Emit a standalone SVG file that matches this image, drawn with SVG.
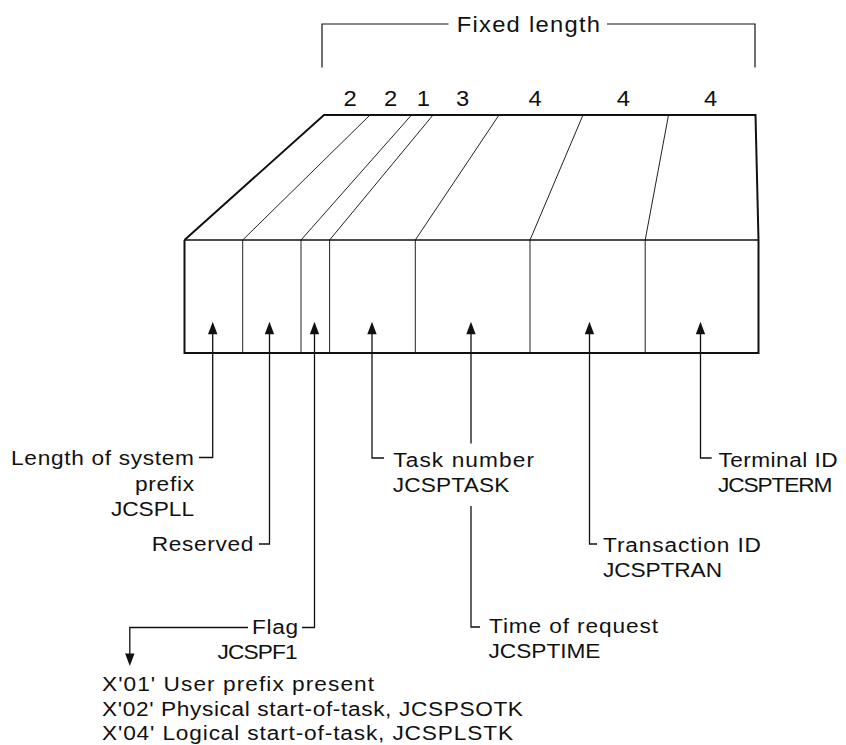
<svg xmlns="http://www.w3.org/2000/svg" xmlns:xlink="http://www.w3.org/1999/xlink" width="846" height="745" viewBox="0 0 846 745">
<style>
text{font-family:"Liberation Sans",Arial,Helvetica,sans-serif;font-size:21px;fill:#111}
.big{font-size:22px}
.num{font-size:22px;text-anchor:middle}
.end{text-anchor:end}
.edge{stroke:#111;stroke-width:2;fill:none;stroke-linejoin:miter}
.div{stroke:#222;stroke-width:1;fill:none}
.lead{stroke:#111;stroke-width:1.3;fill:none}
.br{stroke:#111;stroke-width:1.2;fill:none}
.head{fill:#111}
</style>
<defs>
<path id="up" class="head" d="M-4.7,12.5 L0,0 L4.7,12.5 Z"/>
<path id="down" class="head" d="M-4.7,-12.5 L0,0 L4.7,-12.5 Z"/>
</defs>

<g id="fixed-length-bracket">
<path class="br" d="M322,67.5 V24 H448.5 M607,24 H755 V67.5"/>
<text class="big" transform="matrix(1.08 0 0 1 456.7 31.7)" textLength="132.7" lengthAdjust="spacing">Fixed length</text>
</g>

<g id="field-sizes">
<text class="num" transform="matrix(1.08 0 0 1 350 105.7)">2</text>
<text class="num" transform="matrix(1.08 0 0 1 390.7 105.7)">2</text>
<text class="num" transform="matrix(1.08 0 0 1 423.3 105.7)">1</text>
<text class="num" transform="matrix(1.08 0 0 1 462.7 105.7)">3</text>
<text class="num" transform="matrix(1.08 0 0 1 535 105.7)">4</text>
<text class="num" transform="matrix(1.08 0 0 1 623.3 105.7)">4</text>
<text class="num" transform="matrix(1.08 0 0 1 710.7 105.7)">4</text>
</g>

<g id="prefix-block">
<path class="div" d="M370,115 L242.7,240 M411.5,115 L301,240 M433,115 L329.6,240 M499,115 L415.3,240 M583,115 L530,240 M668.5,115 L645.2,240"/>
<path class="div" d="M242.7,240 V353 M301,240 V353 M329.6,240 V353 M415.3,240 V353 M530,240 V353 M645.2,240 V353"/>
<path class="edge" d="M184.5,240 L324,115 H755.5 L758.5,240"/>
<line x1="184.5" y1="240" x2="758.5" y2="240" stroke="#111" stroke-width="1.5"/>
<path class="edge" d="M184.5,240 V353 H758.5 V240"/>
</g>

<g id="connectors">
<path class="lead" d="M212.7,333 V457.5 H199"/>
<path class="lead" d="M269.5,333 V544 H259"/>
<path class="lead" d="M314.5,333 V627.5 H302"/>
<path class="lead" d="M372,333 V458 H384"/>
<path class="lead" d="M471,333 V443.5 M471,506 V627 H480"/>
<path class="lead" d="M589.5,333 V544 H597"/>
<path class="lead" d="M700.5,333 V458 H711.7"/>
<path class="lead" d="M248,627.5 H129.8 V655"/>
<use xlink:href="#up" href="#up" x="212.7" y="321.7"/>
<use xlink:href="#up" href="#up" x="269.5" y="321.7"/>
<use xlink:href="#up" href="#up" x="314.5" y="321.7"/>
<use xlink:href="#up" href="#up" x="372" y="321.7"/>
<use xlink:href="#up" href="#up" x="471" y="321.7"/>
<use xlink:href="#up" href="#up" x="589.5" y="321.7"/>
<use xlink:href="#up" href="#up" x="700.5" y="321.7"/>
<use xlink:href="#down" href="#down" x="129.8" y="666"/>
</g>

<g id="label-length">
<text class="end" transform="matrix(1.08 0 0 1 194 465)" textLength="169.4" lengthAdjust="spacing">Length of system</text>
<text class="end" transform="matrix(1.08 0 0 1 194 490.5)" textLength="54.6" lengthAdjust="spacing">prefix</text>
<text class="end" transform="matrix(1.08 0 0 1 194 515.5)" textLength="76.9" lengthAdjust="spacing">JCSPLL</text>
</g>

<g id="label-reserved">
<text class="end" transform="matrix(1.08 0 0 1 253.3 550.5)" textLength="94.1" lengthAdjust="spacing">Reserved</text>
</g>

<g id="label-flag">
<text class="end" transform="matrix(1.08 0 0 1 298 634)" textLength="42.6" lengthAdjust="spacing">Flag</text>
<text class="end" transform="matrix(1.08 0 0 1 297.5 659)" textLength="74.1" lengthAdjust="spacing">JCSPF1</text>
</g>

<g id="flag-values">
<text transform="matrix(1.08 0 0 1 102 690.5)" textLength="251.9" lengthAdjust="spacing">X'01' User prefix present</text>
<text transform="matrix(1.08 0 0 1 102 715.5)" textLength="389.8" lengthAdjust="spacing">X'02' Physical start-of-task, JCSPSOTK</text>
<text transform="matrix(1.08 0 0 1 102 740)" textLength="380.6" lengthAdjust="spacing">X'04' Logical start-of-task, JCSPLSTK</text>
</g>

<g id="label-task">
<text transform="matrix(1.08 0 0 1 393.3 466.7)" textLength="130.3" lengthAdjust="spacing">Task number</text>
<text transform="matrix(1.08 0 0 1 392.7 492)" textLength="108.1" lengthAdjust="spacing">JCSPTASK</text>
</g>

<g id="label-time">
<text transform="matrix(1.08 0 0 1 489 633.3)" textLength="156.5" lengthAdjust="spacing">Time of request</text>
<text transform="matrix(1.08 0 0 1 488.5 658.3)" textLength="103.7" lengthAdjust="spacing">JCSPTIME</text>
</g>

<g id="label-transaction">
<text transform="matrix(1.08 0 0 1 603 551.5)" textLength="146.3" lengthAdjust="spacing">Transaction ID</text>
<text transform="matrix(1.08 0 0 1 603 576.7)" textLength="110.2" lengthAdjust="spacing">JCSPTRAN</text>
</g>

<g id="label-terminal">
<text transform="matrix(1.08 0 0 1 718.5 466.7)" textLength="110.2" lengthAdjust="spacing">Terminal ID</text>
<text transform="matrix(1.08 0 0 1 718 491.5)" textLength="106" lengthAdjust="spacing">JCSPTERM</text>
</g>
</svg>
